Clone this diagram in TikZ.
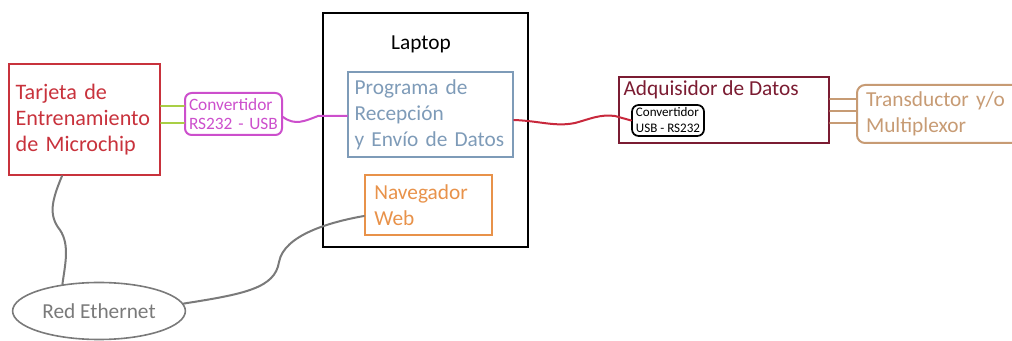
\documentclass[tikz,border=0pt]{standalone}
\usepackage{fontspec}
\setmainfont{Carlito}
\usepackage{xcolor}
\usepackage{tikz}
\usetikzlibrary{shapes.geometric}
\definecolor{board}{HTML}{C8323C}
\definecolor{conv}{HTML}{CC4FCC}
\definecolor{ttlgreen}{HTML}{A9CF45}
\definecolor{prog}{HTML}{7E9BB8}
\definecolor{nav}{HTML}{E8924A}
\definecolor{daq}{HTML}{7B1C32}
\definecolor{cable}{HTML}{C8283C}
\definecolor{sensor}{HTML}{C79B74}
\definecolor{net}{HTML}{7A7A7A}
\tikzset{box/.style={draw,line width=1.5pt,align=left,inner xsep=5pt,inner ysep=2pt},
  big/.style={font=\fontsize{16}{19.5}\selectfont},
  wire/.style={line width=1.5pt,line cap=round}}

\begin{document}
\begin{tikzpicture}[x=0.75pt,y=-0.75pt]
  \useasboundingbox (0,0) rectangle (1012,341);
  \node[box,board,text=board,font=\fontsize{16.6}{19.5}\selectfont,minimum width=113.25pt,minimum height=83.25pt,text width=103.25pt] (tarjeta) at (84.5,119.5) {Tarjeta de\\Entrenamiento\\de Microchip};
  \node[box,conv,text=conv,rounded corners=5pt,inner xsep=3pt,font=\fontsize{13}{14.5}\selectfont,minimum width=72.75pt,minimum height=31.5pt,text width=66.75pt] (rsusb) at (233.5,114) {Convertidor\\RS232 - USB};
  \node[draw,line width=2pt,minimum width=153.75pt,minimum height=175.5pt] (laptop) at (425.5,130) {};
  \node[font=\fontsize{16}{18}\selectfont] (laptoplbl) at (421,44) {Laptop};
  \node[box,big,prog,text=prog,minimum width=123.75pt,minimum height=63.75pt,text width=113.75pt] (programa) at (430.5,114.5) {Programa de\\Recepción\\y Envío de Datos};
  \node[box,big,nav,text=nav,inner xsep=7pt,minimum width=95.25pt,minimum height=45pt,text width=81.25pt] (navegador) at (428.5,205) {Navegador\\Web};
  \node[box,daq,minimum width=157.5pt,minimum height=49.5pt] (adq) at (724,110) {};
  \node[anchor=north west,big,text=daq,inner xsep=4pt,inner ysep=3pt] (adqlbl) at (adq.north west) {Adquisidor de Datos};
  \node[box,black,line width=1.3pt,rounded corners=5pt,inner xsep=1pt,inner ysep=1pt,font=\fontsize{9.8}{12}\selectfont,minimum width=54pt,minimum height=23.25pt] (usbrs) at (668,120.5) {Convertidor\\USB - RS232};
  \node[box,big,sensor,text=sensor,rounded corners=6pt,inner xsep=6.75pt,minimum width=129.75pt,minimum height=43.5pt,text width=116.25pt] (transductor) at (943.5,114) {Transductor y/o\\Multiplexor};
  \node[ellipse,draw=net,line width=1.2pt,big,text=net,minimum width=127.5pt,minimum height=42.75pt] (red) at (99,311) {Red Ethernet};

  \draw[wire,ttlgreen] (tarjeta.east |- 0,106) -- (rsusb.west |- 0,106);
  \draw[wire,ttlgreen] (tarjeta.east |- 0,123) -- (rsusb.west |- 0,123);
  \draw[wire,conv] (rsusb.east |- 0,117) .. controls (295,126) and (305,121) .. (318,116) -- (programa.west |- 0,116);
  \draw[wire,cable] (programa.east |- 0,120) .. controls (540,121) and (555,127) .. (575,123) .. controls (590,119) and (600,114) .. (615,116) -- (usbrs.west);
  \foreach \y in {99,111,123}
    \draw[wire,sensor] (adq.east |- 0,\y) -- (transductor.west |- 0,\y);
  \draw[wire,net] (tarjeta.south -| 62,0) .. controls (52,200) and (48,215) .. (60,230) .. controls (70,245) and (65,265) .. (red.144);
  \draw[wire,net] (red.5) .. controls (245,294) and (275,288) .. (279,262) .. controls (284,235) and (330,222) .. (navegador.west |- 0,216);
\end{tikzpicture}
\end{document}
